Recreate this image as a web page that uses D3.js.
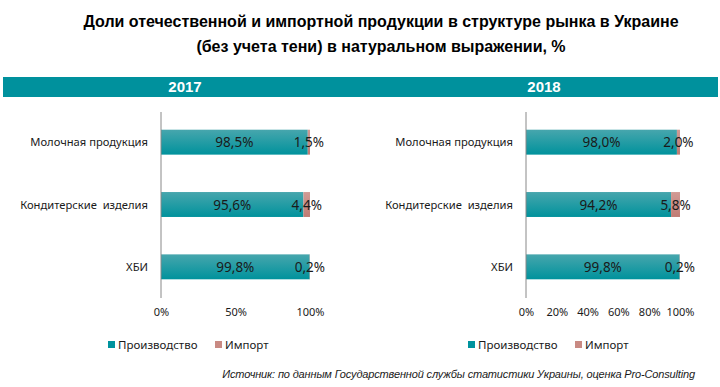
<!DOCTYPE html>
<html>
<head>
<meta charset="utf-8">
<script src="https://cdn.jsdelivr.net/npm/d3@7"></script>
<style>
body{margin:0;background:#fff;}
svg{display:block;}
</style>
</head>
<body>
<svg id="chart" width="720" height="387"></svg>
<script>
var categories = ["Молочная продукция", "Кондитерские  изделия", "ХБИ"];
var years = ["2017", "2018"];
var prod2017 = [98.5, 95.6, 99.8];
var imp2017 = [1.5, 4.4, 0.2];
var prod2018 = [98.0, 94.2, 99.8];
var imp2018 = [2.0, 5.8, 0.2];
var ticks2017 = [0, 50, 100];
var ticks2018 = [0, 20, 40, 60, 80, 100];
var seriesNames = ["Производство", "Импорт"];

var svg = d3.select("#chart");
var teal = "#00939E", rose = "#C98A83";
var fmt = function(v){ return d3.format(".1f")(v).replace(".", ",") + "%"; };

var defs = svg.append("defs");
var g1 = defs.append("linearGradient").attr("id","gProd").attr("x1",0).attr("y1",0).attr("x2",0).attr("y2",1);
g1.append("stop").attr("offset","0%").attr("stop-color","#47A6AD");
g1.append("stop").attr("offset","100%").attr("stop-color","#00929C");
var g2 = defs.append("linearGradient").attr("id","gImp").attr("x1",0).attr("y1",0).attr("x2",0).attr("y2",1);
g2.append("stop").attr("offset","0%").attr("stop-color","#D29B95");
g2.append("stop").attr("offset","100%").attr("stop-color","#BF7B73");

// title
svg.selectAll("text.title").data(["Доли отечественной и импортной продукции в структуре рынка в Украине","(без учета тени) в натуральном выражении, %"])
  .enter().append("text").attr("class","title")
  .attr("x",381).attr("y",function(d,i){return 27+i*25;})
  .attr("text-anchor","middle")
  .style("font-family","'Liberation Sans',Arial,sans-serif")
  .style("font-weight","bold").style("font-size","16px").attr("fill","#000")
  .text(function(d){return d;});

// band
svg.append("rect").attr("x",3).attr("y",77).attr("width",715).attr("height",20).attr("fill","#00919D");
var bandX = [185, 544];
svg.selectAll("text.year").data(years).enter().append("text").attr("class","year")
  .attr("x",function(d,i){return bandX[i];}).attr("y",92)
  .attr("text-anchor","middle").attr("fill","#fff")
  .style("font-family","'Liberation Sans',Arial,sans-serif").style("font-weight","bold").style("font-size","15px")
  .text(function(d){return d;});

var panels = [
  {prod: prod2017, imp: imp2017, ticks: ticks2017, x0: 161, x1: 310, labelX: 148, legX: 108},
  {prod: prod2018, imp: imp2018, ticks: ticks2018, x0: 526, x1: 680, labelX: 513, legX: 468}
];
var font = "'Noto Sans','Open Sans',sans-serif";

panels.forEach(function(p){
  var x = d3.scaleLinear().domain([0,100]).range([p.x0,p.x1]);
  var y = d3.scaleBand().domain(categories).range([111,298]).paddingInner(0.6).paddingOuter(0.3);
  var g = svg.append("g");

  g.selectAll("rect.prod").data(categories).enter().append("rect")
    .attr("x",x(0)).attr("y",function(d){return y(d);})
    .attr("width",function(d,i){return x(p.prod[i])-x(0);})
    .attr("height",y.bandwidth()).attr("fill","url(#gProd)");
  g.selectAll("rect.imp").data(categories).enter().append("rect")
    .attr("x",function(d,i){return x(p.prod[i]);}).attr("y",function(d){return y(d);})
    .attr("width",function(d,i){return x(p.prod[i]+p.imp[i])-x(p.prod[i]);})
    .attr("height",y.bandwidth()).attr("fill","url(#gImp)");

  // value labels
  g.selectAll("text.vp").data(categories).enter().append("text")
    .attr("x",function(d,i){return x(p.prod[i]/2);})
    .attr("y",function(d){return y(d)+y.bandwidth()/2+5;})
    .attr("text-anchor","middle").style("font-family",font).style("font-size","13.5px").attr("fill","#1a1a1a")
    .text(function(d,i){return fmt(p.prod[i]);});
  g.selectAll("text.vi").data(categories).enter().append("text")
    .attr("x",function(d,i){return x(p.prod[i]+p.imp[i]/2);})
    .attr("y",function(d){return y(d)+y.bandwidth()/2+5;})
    .attr("text-anchor","middle").style("font-family",font).style("font-size","13.5px").attr("fill","#1a1a1a")
    .text(function(d,i){return fmt(p.imp[i]);});

  // category labels
  g.selectAll("text.cat").data(categories).enter().append("text")
    .attr("x",p.labelX).attr("y",function(d){return y(d)+y.bandwidth()/2+4;})
    .attr("text-anchor","end").style("font-family",font).style("font-size","11.2px").attr("fill","#1a1a1a")
    .style("white-space","pre")
    .text(function(d){return d;});

  // axis line
  g.append("line").attr("x1",x(0)).attr("x2",x(0)).attr("y1",112).attr("y2",298)
    .attr("stroke","#888").attr("stroke-width",1);

  // ticks
  var ax = g.append("g").attr("transform","translate(0,300)")
    .call(d3.axisBottom(x).tickValues(p.ticks).tickSize(0).tickPadding(8).tickFormat(function(d){return d+"%";}));
  ax.select(".domain").remove();
  ax.selectAll("text").style("font-family",font).style("font-size","11px").attr("fill","#1a1a1a");

  // legend
  var lg = g.append("g").attr("transform","translate("+p.legX+",341)");
  var offs = [0, 107];
  seriesNames.forEach(function(n,i){
    lg.append("rect").attr("x",offs[i]).attr("y",0).attr("width",7).attr("height",7).attr("fill",i===0?teal:rose);
    lg.append("text").attr("x",offs[i]+10).attr("y",8).style("font-family",font).style("font-size","11.5px").attr("fill","#1a1a1a").text(n);
  });
});

svg.append("text").attr("x",695).attr("y",378).attr("text-anchor","end")
  .style("font-family","'Liberation Sans',Arial,sans-serif").style("font-style","italic").style("font-size","11px")
  .style("letter-spacing","-0.15px")
  .attr("fill","#1a1a1a")
  .text("Источник: по данным Государственной службы статистики Украины, оценка Pro-Consulting");
</script>
</body>
</html>
